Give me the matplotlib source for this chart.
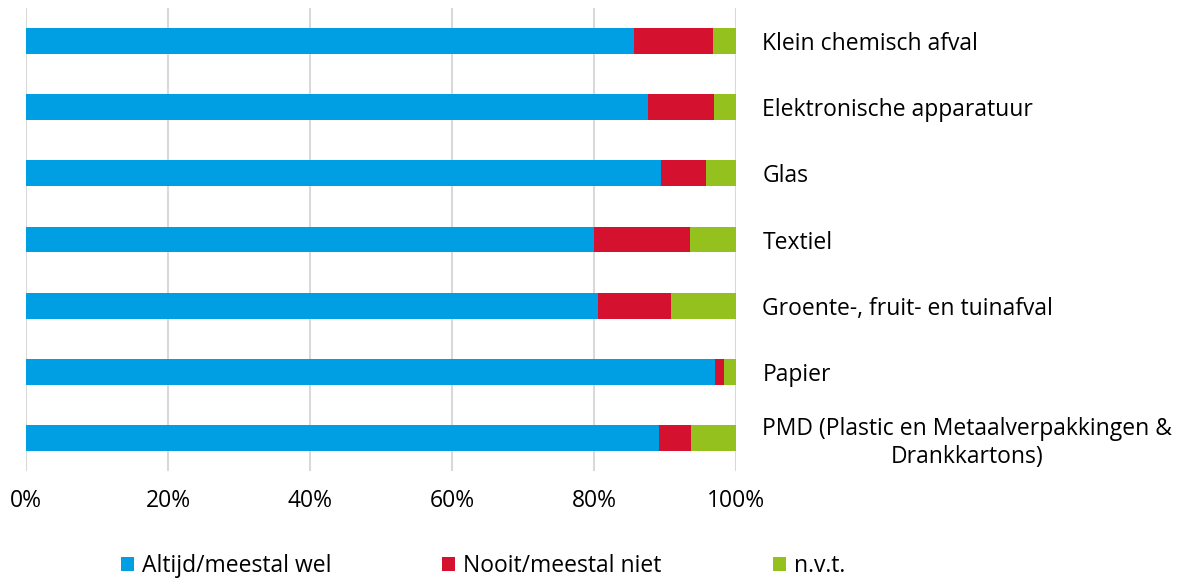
import matplotlib
matplotlib.use("Agg")
import matplotlib.pyplot as plt
from matplotlib.patches import Patch

categories = [
    "Klein chemisch afval",
    "Elektronische apparatuur",
    "Glas",
    "Textiel",
    "Groente-, fruit- en tuinafval",
    "Papier",
    "PMD (Plastic en Metaalverpakkingen &\nDrankkartons)",
]
altijd = [85.6, 87.6, 89.5, 80.0, 80.6, 97.1, 89.2]
nooit = [11.2, 9.3, 6.3, 13.5, 10.2, 1.2, 4.5]
nvt = [round(100 - a - n, 1) for a, n in zip(altijd, nooit)]
series_names = ["Altijd/meestal wel", "Nooit/meestal niet", "n.v.t."]
colors = ["#009FE3", "#D51130", "#95C11F"]
xticks = [0, 20, 40, 60, 80, 100]
xticklabels = ["0%", "20%", "40%", "60%", "80%", "100%"]

plt.rcParams['font.family'] = ['Open Sans', 'DejaVu Sans']
FS = 16.5

fig = plt.figure(figsize=(11.91, 5.82), dpi=100)
ax = fig.add_axes([26/1191, 1-471/582, 710/1191, 463/582])

ypos = list(range(len(categories)))
h = 0.39
left = [0]*len(categories)
for vals, c in zip([altijd, nooit, nvt], colors):
    ax.barh(ypos, vals, left=left, height=h, color=c, zorder=3)
    left = [l + v for l, v in zip(left, vals)]

ax.set_xlim(0, 100)
ax.set_ylim(len(categories) - 0.5, -0.5)
ax.set_xticks(xticks)
ax.set_xticklabels(xticklabels, fontsize=FS)
ax.xaxis.grid(True, color="#d9d9d9", linewidth=1.5, zorder=0)
ax.tick_params(axis='x', length=0, pad=13)
ax.yaxis.tick_right()
ax.set_yticks(ypos)
ax.set_yticklabels(categories, fontsize=FS, linespacing=1.2)
ax.tick_params(axis='y', length=0, pad=19)
for lbl in ax.get_yticklabels():
    lbl.set_multialignment('center')
for s in ax.spines.values():
    s.set_visible(False)

handles = [Patch(facecolor=c, edgecolor='none') for c in colors]
fig.legend(handles, series_names, loc='center', bbox_to_anchor=(483/1191, 1-566/582),
           ncol=3, frameon=False, fontsize=FS, handlelength=0.57, handleheight=0.57,
           handletextpad=0.35, columnspacing=4.85, borderpad=0, borderaxespad=0)

fig.savefig("out.png", dpi=100)
